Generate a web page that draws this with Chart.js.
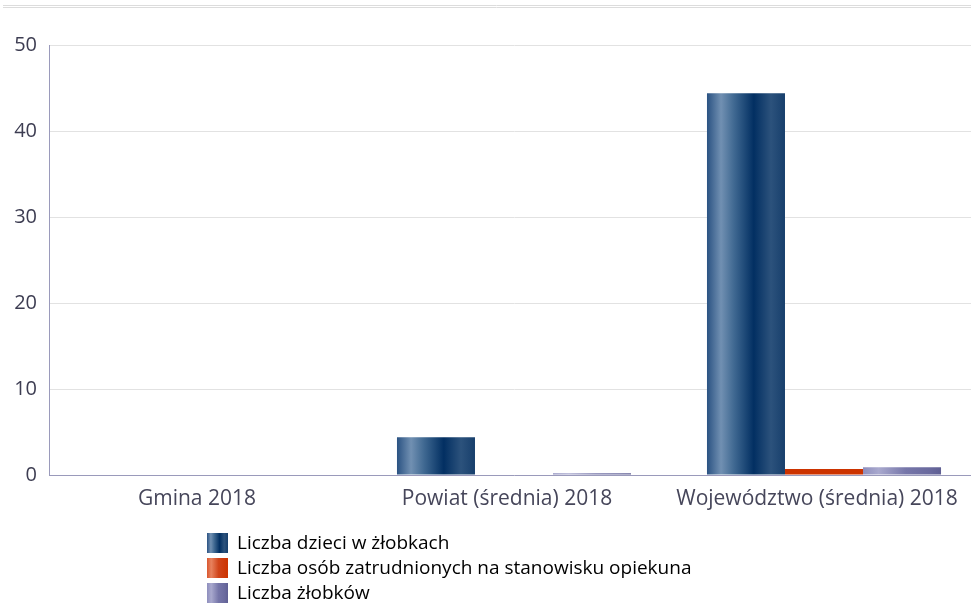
<!DOCTYPE html>
<html>
<head>
<meta charset="utf-8">
<script src="https://cdn.jsdelivr.net/npm/chart.js@4.4.1/dist/chart.umd.min.js"></script>
<style>
    html, body { margin: 0; padding: 0; background: #fff; overflow: hidden; }
    #wrap { position: relative; width: 990px; height: 605px; }
</style>
</head>
<body>
<div id="wrap"><canvas id="chart"></canvas></div>
<script>
// Chart data
const categories = ['Gmina 2018', 'Powiat (średnia) 2018', 'Województwo (średnia) 2018'];
const seriesNames = ['Liczba dzieci w żłobkach', 'Liczba osób zatrudnionych na stanowisku opiekuna', 'Liczba żłobków'];
const dzieci = [0, 4.4, 44.4];
const opiekunowie = [0, 0, 0.7];
const zlobki = [0, 0.2, 0.9];
const yMax = 50;
const yStep = 10;

// Gradient stops for each series (bar and legend swatch)
const blueStops = [[0, '#2a5282'], [0.18, '#7190b2'], [0.35, '#3f6891'], [0.6, '#022f62'], [0.82, '#2c527c'], [1, '#173f6c']];
const redStops = [[0, '#cc3300'], [1, '#cc3300']];
const redLegendStops = [[0, '#d9572f'], [0.2, '#e8825e'], [0.55, '#d0441a'], [1, '#cc3300']];
const purpleStops = [[0, '#8e8ebd'], [0.2, '#a9a9ce'], [0.55, '#7676a9'], [0.85, '#6a6a9e'], [1, '#5f5f93']];

function makeGradient(ctx, x0, x1, stops) {
    var g = ctx.createLinearGradient(x0, 0, x1, 0);
    for (const s of stops) {
        g.addColorStop(s[0], s[1]);
    }
    return g;
}

// Give every bar its own horizontal gradient
const barGradients = {
    id: 'barGradients',
    afterDatasetsUpdate(chart) {
        const ctx = chart.ctx;
        chart.data.datasets.forEach(function (ds, i) {
            const meta = chart.getDatasetMeta(i);
            for (const el of meta.data) {
                const g = makeGradient(ctx, el.x - el.width / 2, el.x + el.width / 2, ds.barStops);
                el.options = Object.assign({}, el.options, {backgroundColor: g});
            }
        });
    }
};

// Two thin lines at the top and the vertical legend below
const decorations = {
    id: 'decorations',
    beforeDraw(chart) {
        const ctx = chart.ctx;
        ctx.save();
        ctx.strokeStyle = '#dcdcdc';
        ctx.lineWidth = 1;
        ctx.beginPath();
        ctx.moveTo(3, 5.5); ctx.lineTo(chart.width, 5.5);
        ctx.moveTo(3, 7.5); ctx.lineTo(chart.width, 7.5);
        ctx.stroke();
        ctx.restore();
    },
    afterDraw(chart) {
        const ctx = chart.ctx;
        ctx.save();
        ctx.font = '19px "Open Sans", sans-serif';
        ctx.textBaseline = 'middle';
        chart.data.datasets.forEach(function (ds, i) {
            const top = 533 + i * 25;
            ctx.fillStyle = makeGradient(ctx, 207, 228, ds.legendStops);
            ctx.fillRect(207, top, 21, 20);
            ctx.fillStyle = '#000000';
            ctx.fillText(ds.label, 237, top + 11);
        });
        ctx.restore();
    }
};

const datasets = [
    {label: seriesNames[0], data: dzieci, barStops: blueStops, legendStops: blueStops},
    {label: seriesNames[1], data: opiekunowie, barStops: redStops, legendStops: redLegendStops},
    {label: seriesNames[2], data: zlobki, barStops: purpleStops, legendStops: purpleStops}
];
datasets.forEach(function (ds) {
    ds.backgroundColor = ds.barStops[0][1];
    ds.borderWidth = 0;
    ds.categoryPercentage = 0.755;
    ds.barPercentage = 1.0;
});

new Chart(document.getElementById('chart').getContext('2d'), {
    type: 'bar',
    data: {
        labels: categories,
        datasets: datasets
    },
    plugins: [barGradients, decorations],
    options: {
        responsive: true,
        maintainAspectRatio: false,
        animation: false,
        events: [],
        layout: {
            padding: {left: 0, right: 11, top: 45, bottom: 0}
        },
        plugins: {
            legend: {display: false},
            tooltip: {enabled: false}
        },
        scales: {
            x: {
                grid: {display: false},
                border: {display: true, color: '#9a9abb', width: 1},
                ticks: {
                    color: '#46465a',
                    font: {family: '"Open Sans", sans-serif', size: 21},
                    padding: 3,
                    labelOffset: -7,
                    maxRotation: 0,
                    autoSkip: false
                },
                afterFit(scale) { scale.height = 130; }
            },
            y: {
                min: 0,
                max: yMax,
                ticks: {
                    stepSize: yStep,
                    color: '#3d3d52',
                    font: {family: '"Open Sans", sans-serif', size: 20},
                    padding: 12
                },
                grid: {color: '#e2e2e2', drawTicks: false},
                border: {display: true, color: '#9a9abb', width: 1},
                afterFit(scale) { scale.width = 49; }
            }
        }
    }
});
</script>
</body>
</html>
